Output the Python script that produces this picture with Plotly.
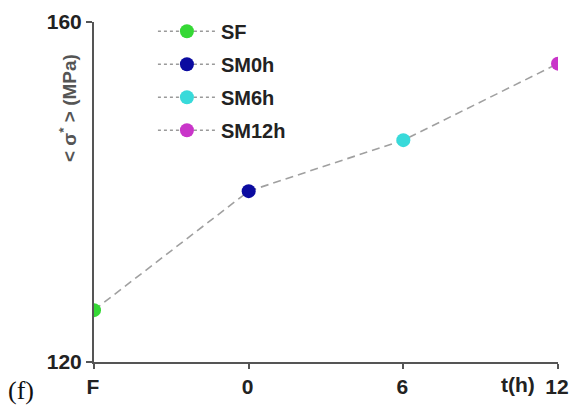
import plotly.graph_objects as go

categories = ["F", "0", "6", "12"]
series_names = ["SF", "SM0h", "SM6h", "SM12h"]
sigma_values = [126.1, 140.1, 146.1, 155.1]
colors = ["#35d835", "#0b0ba0", "#38dada", "#c935c9"]
y_ticks = [120, 160]

xpos = list(range(len(categories)))

fig = go.Figure()
# connecting dashed line
fig.add_trace(go.Scatter(x=xpos, y=sigma_values, mode="lines",
                         line=dict(color="#a0a0a0", width=1.6, dash="8px,5px"),
                         showlegend=False, hoverinfo="skip"))
for i, name in enumerate(series_names):
    fig.add_trace(go.Scatter(x=[xpos[i]], y=[sigma_values[i]], mode="markers+lines",
                             name=name, legendgroup=name,
                             marker=dict(color=colors[i], size=14),
                             line=dict(color="#9a9a9a", width=1.4, dash="dot"),
                             cliponaxis=True))

axis_font = dict(family="Liberation Sans", size=21, color="#222222", weight="bold")
fig.update_layout(
    width=571, height=412,
    margin=dict(l=94, r=13, t=22, b=50, autoexpand=False),
    paper_bgcolor="white", plot_bgcolor="white",
    showlegend=True,
    legend=dict(x=0.127, y=1.03, xanchor="left", yanchor="top",
                font=dict(family="Liberation Sans", size=20, color="#222222", weight="bold"),
                itemwidth=58, tracegroupgap=4, traceorder="grouped",
                bgcolor="rgba(0,0,0,0)"),
    xaxis=dict(range=[0, 3], tickvals=xpos, ticktext=categories,
               showgrid=False, zeroline=False, showline=True, linecolor="#555555",
               linewidth=2, ticks="outside", ticklen=5, tickwidth=1.5, tickcolor="#555555",
               tickfont=axis_font, ticklabelshift=-1),
    yaxis=dict(range=[120, 160], tickvals=y_ticks,
               showgrid=False, zeroline=False, showline=True, linecolor="#555555",
               linewidth=2, ticks="outside", ticklen=6, tickwidth=1.5, tickcolor="#555555",
               tickfont=axis_font),
    annotations=[
        dict(text="< σ<sup>*</sup> > (MPa)", xref="paper", yref="paper",
             x=-0.056, y=0.747, xanchor="center", yanchor="middle", textangle=-90,
             showarrow=False,
             font=dict(family="Liberation Sans", size=19, color="#555555", weight="bold")),
        dict(text="t(h)", xref="paper", yref="paper", x=0.914, y=-0.065,
             xanchor="center", yanchor="middle", showarrow=False,
             font=axis_font),
        dict(text="(f)", xref="paper", yref="paper", x=-0.19, y=-0.085,
             xanchor="left", yanchor="middle", showarrow=False,
             font=dict(family="Liberation Serif", size=26, color="#111111")),
    ],
)

fig.write_html("out.html", config={"displayModeBar": False},
               post_script="document.body.style.margin='0px';")
